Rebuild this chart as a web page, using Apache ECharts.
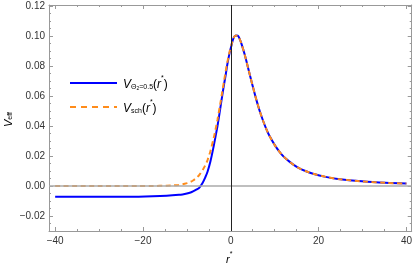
<!DOCTYPE html>
<html><head><meta charset="utf-8">
<script src="https://cdn.jsdelivr.net/npm/echarts@6/dist/echarts.min.js"></script>
<style>html,body{margin:0;padding:0;background:#fff}#c{width:415px;height:267px}</style>
</head><body><div id="c"></div>
<script>
// r* values and potentials
const rStarSch = [-40,-30,-21,-17.8,-14.6,-13.2,-11.8,-11.0,-10,-9.16,-8.6,-7.77,-7.2,-6.4,-5.78,-5.3,-4.63,-3.9,-3.51,-3.03,-2.41,-1.91,-1.49,-1.14,-0.82,-0.27,0.19,0.6,1.14,1.6,2.04,2.44,3.15,4.0,4.49,4.95,5.81,6.62,7.39,8.12,8.83,10.2,11.51,12.77,14.01,15.22,17.0,18.74,21.6,24.39,29.88,35.28,40];
const vSch = [0,0,0.000004,0.00004,0.00019,0.00038,0.00075,0.00112,0.0019,0.0028,0.0037,0.0055,0.0073,0.0107,0.0140,0.0173,0.0234,0.0319,0.0371,0.0442,0.0546,0.0634,0.0708,0.0769,0.0820,0.0896,0.0946,0.0985,0.1003,0.1002,0.0980,0.0948,0.0878,0.0781,0.0724,0.0671,0.0576,0.0497,0.0432,0.0378,0.0333,0.0264,0.0213,0.0176,0.0148,0.0125,0.0100,0.0082,0.0061,0.0047,0.0031,0.0021,0.0016];
const rStarTheta = [-40,-30,-21,-17.8,-14.6,-11.8,-11.0,-10,-9.16,-8.6,-7.77,-7.2,-6.4,-5.78,-5.3,-4.63,-3.9,-3.51,-3.03,-2.41,-1.91,-1.49,-1.14,-0.82,-0.27,0.19,0.6,1.14,1.6,2.04,2.44,3.15,4.0,4.49,4.95,5.81,6.62,7.39,8.12,8.83,10.2,11.51,12.77,14.01,15.22,17.0,18.74,21.6,24.39,29.88,35.28,40];
const vTheta = [-0.0072,-0.0072,-0.0071,-0.0069,-0.0065,-0.0059,-0.0056,-0.0050,-0.0043,-0.0036,-0.0023,-0.0012,0.0022,0.0060,0.0095,0.0165,0.0265,0.0325,0.0400,0.0515,0.0610,0.0685,0.0745,0.0805,0.0888,0.0942,0.0985,0.1003,0.1002,0.0980,0.0948,0.0878,0.0781,0.0724,0.0671,0.0576,0.0497,0.0432,0.0378,0.0333,0.0264,0.0213,0.0176,0.0148,0.0125,0.0100,0.0082,0.0061,0.0047,0.0031,0.0021,0.0016];
const xMajor = [-40,-20,0,20,40];
const xMinor = [-35,-30,-25,-15,-10,-5,5,10,15,25,30,35];
const yMajor = [-0.02,0,0.02,0.04,0.06,0.08,0.10,0.12];
const yMinor = [-0.025,-0.015,-0.01,-0.005,0.005,0.01,0.015,0.025,0.03,0.035,0.045,0.05,0.055,0.065,0.07,0.075,0.085,0.09,0.095,0.105,0.11,0.115];

const FRAME = '#999';
const FONT = 'Liberation Sans';
const BLUE = '#0000ff', ORANGE = '#ff8c1a';
const minus = s => s.replace('-', '\u2212');
function xAx(pos, vals, len, labels, line) {
  return {type:'value', position:pos, min:-41.4, max:41.2,
    axisLine:{show:line, onZero:false, lineStyle:{color:FRAME, width:1}},
    axisTick:{show:true, inside:true, length:len, customValues:vals, lineStyle:{color:FRAME}},
    axisLabel:{show:labels, customValues:vals, margin:5, color:'#333', fontSize:10, fontFamily:FONT, formatter:v=>minus(String(v))},
    splitLine:{show:false}};
}
function yAx(pos, vals, len, labels, line) {
  return {type:'value', position:pos, min:-0.03, max:0.1207,
    axisLine:{show:line, onZero:false, lineStyle:{color:FRAME, width:1}},
    axisTick:{show:true, inside:true, length:len, customValues:vals, lineStyle:{color:FRAME}},
    axisLabel:{show:labels, customValues:vals, margin:4, color:'#333', fontSize:10, fontFamily:FONT, formatter:v=>minus(v.toFixed(2))},
    splitLine:{show:false}};
}
const chart = echarts.init(document.getElementById('c'), null, {renderer:'canvas'});
const rich = {
  i:{fontStyle:'italic', fontSize:12, fontFamily:FONT, color:'#000', verticalAlign:'bottom', lineHeight:16},
  n:{fontSize:12, fontFamily:FONT, color:'#000', verticalAlign:'bottom', lineHeight:16},
  s:{fontSize:7, fontFamily:FONT, color:'#000', verticalAlign:'bottom', lineHeight:13},
  ss:{fontSize:5, fontFamily:FONT, color:'#000', verticalAlign:'bottom', lineHeight:16},
  sp:{fontSize:7, fontFamily:FONT, color:'#000', verticalAlign:'top', lineHeight:16}
};
const legendTexts = ['{i|V}{s|\u0398}{ss|2}{s|=0.5}{n|(}{i|r}{sp|*}{n|)}', '{i|V}{s|sch}{n|(}{i|r}{sp|*}{n|)}'];
chart.setOption({
  animation:false,
  grid:{left:49, right:2, top:5, bottom:36},
  xAxis:[xAx('bottom', xMajor, 4, true, true), xAx('bottom', xMinor, 2, false, false), xAx('top', xMajor, 4, false, true), xAx('top', xMinor, 2, false, false)],
  yAxis:[yAx('left', yMajor, 4, true, true), yAx('left', yMinor, 2, false, false), yAx('right', yMajor, 4, false, true), yAx('right', yMinor, 2, false, false)],
  graphic:[
    {type:'line', shape:{x1:70, y1:83, x2:117, y2:83}, style:{stroke:BLUE, lineWidth:2}, z:10},
    {type:'line', shape:{x1:70, y1:107, x2:117, y2:107}, style:{stroke:ORANGE, lineWidth:2, lineDash:[6,5]}, z:10},
    {type:'text', x:123, y:83, z:10, style:{text:legendTexts[0], rich:rich, verticalAlign:'middle'}},
    {type:'text', x:123, y:107, z:10, style:{text:legendTexts[1], rich:rich, verticalAlign:'middle'}},
    {type:'text', left:3, top:112, rotation:Math.PI/2, style:{text:'{i|V}{s|eff}', rich:{i:{fontStyle:'italic', fontSize:11, fontFamily:FONT, color:'#333', verticalAlign:'bottom', lineHeight:14}, s:{fontSize:7, fontFamily:FONT, color:'#333', verticalAlign:'bottom', lineHeight:11}}}},
    {type:'text', left:226, top:251, style:{text:'{i|r}{sp|*}', rich:{i:{fontStyle:'italic', fontSize:11, fontFamily:FONT, color:'#333', verticalAlign:'bottom', lineHeight:14}, sp:{fontSize:7, fontFamily:FONT, color:'#333', verticalAlign:'top', lineHeight:14}}}}
  ],
  series:[
    {type:'line', name:'axes', data:[], silent:true, z:1,
      markLine:{silent:true, symbol:'none', label:{show:false}, animation:false,
        data:[{yAxis:0, lineStyle:{color:'#aaa', width:1.5, type:'solid'}}, {xAxis:0, lineStyle:{color:'#222', width:1, type:'solid'}}]}},
    {type:'line', name:'theta', data:rStarTheta.map((x,i)=>[x,vTheta[i]]), showSymbol:false, symbol:'none',
      smooth:0.3, lineStyle:{color:BLUE, width:2}, itemStyle:{color:BLUE}, z:3},
    {type:'line', name:'sch', data:rStarSch.map((x,i)=>[x,vSch[i]]), showSymbol:false, symbol:'none',
      smooth:0.3, lineStyle:{color:ORANGE, width:2, type:[5,3.5]}, itemStyle:{color:ORANGE}, z:4}
  ]
});
</script></body></html>
